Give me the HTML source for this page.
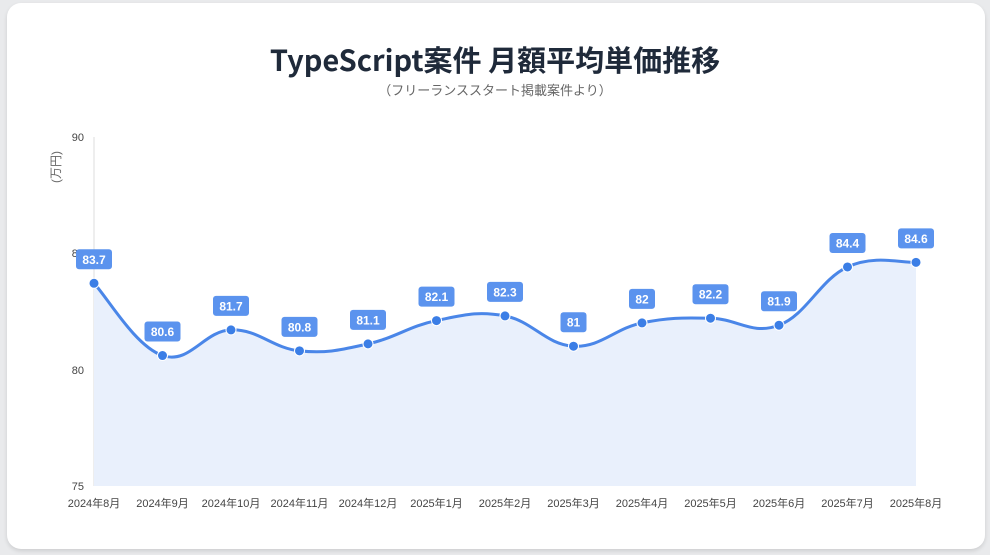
<!DOCTYPE html>
<html><head><meta charset="utf-8">
<style>
html,body{margin:0;padding:0;background:#e9eaec;}
body{width:990px;height:555px;position:relative;overflow:hidden;font-family:"Liberation Sans","Noto Sans CJK JP",sans-serif;}
.card{position:absolute;left:7px;top:3px;width:978px;height:546px;background:#fff;border-radius:14px;box-shadow:0 2px 4px rgba(0,0,0,0.12);}
h1{position:absolute;left:0;width:990px;top:38px;margin:0;text-align:center;font-size:29px;font-weight:bold;color:#1f2a3a;font-family:"Noto Sans CJK JP",sans-serif;}
.sub{position:absolute;left:0;width:990px;top:80px;text-align:center;font-size:13px;color:#666;font-family:"Noto Sans CJK JP",sans-serif;}
</style></head><body>
<div class="card"></div>
<h1>TypeScript案件 月額平均単価推移</h1>
<div class="sub">（フリーランススタート掲載案件より）</div>
<svg id="c" width="990" height="555" style="position:absolute;left:0;top:0"></svg>
<script>
const vals=[83.7,80.6,81.7,80.8,81.1,82.1,82.3,81,82,82.2,81.9,84.4,84.6];
const labs=["2024年8月","2024年9月","2024年10月","2024年11月","2024年12月","2025年1月","2025年2月","2025年3月","2025年4月","2025年5月","2025年6月","2025年7月","2025年8月"];
const X=i=>94+i*68.5, Y=v=>486-(v-75)*23.3;
const P=vals.map((v,i)=>[X(i),Y(v)]);
let d=`M${P[0][0]},${P[0][1]}`;
const t=0.2;
for(let i=0;i<P.length-1;i++){
 const p0=P[Math.max(i-1,0)],p1=P[i],p2=P[i+1],p3=P[Math.min(i+2,P.length-1)];
 const c1=[p1[0]+(p2[0]-p0[0])*t,p1[1]+(p2[1]-p0[1])*t];
 const c2=[p2[0]-(p3[0]-p1[0])*t,p2[1]-(p3[1]-p1[1])*t];
 d+=` C${c1[0]},${c1[1]} ${c2[0]},${c2[1]} ${p2[0]},${p2[1]}`;
}
let s=`<line x1="94" y1="137" x2="94" y2="486" stroke="#ddd"/>`;
s+=`<path d="${d} L916,486 L94,486 Z" fill="#e9f0fc"/>`;
s+=`<path d="${d}" fill="none" stroke="#4a86e8" stroke-width="3"/>`;
[[90,137],[80,370],[75,486]].forEach(([v,y])=>{s+=`<text x="84" y="${y+4}" font-size="11" fill="#444" text-anchor="end">${v}</text>`;});
s+=`<text x="84" y="257" font-size="11" fill="#444" text-anchor="end">85</text>`;
s+=`<text transform="translate(60,167) rotate(-90)" font-size="12" fill="#666" text-anchor="middle">(万円)</text>`;
P.forEach((p,i)=>{
 s+=`<circle cx="${p[0]}" cy="${p[1]}" r="5" fill="#3b7ee6" stroke="#fff" stroke-width="1"/>`;
 const txt=String(vals[i]);const w=txt.length>2?36:26;
 s+=`<rect x="${p[0]-w/2}" y="${p[1]-34}" width="${w}" height="20" rx="3" fill="#5b93ee"/>`;
 s+=`<text x="${p[0]}" y="${p[1]-19.5}" font-size="12" font-weight="bold" fill="#fff" text-anchor="middle">${txt}</text>`;
 s+=`<text x="${p[0]}" y="507" font-size="11" fill="#444" text-anchor="middle">${labs[i]}</text>`;
});
document.getElementById('c').innerHTML=s;
</script>
</body></html>
